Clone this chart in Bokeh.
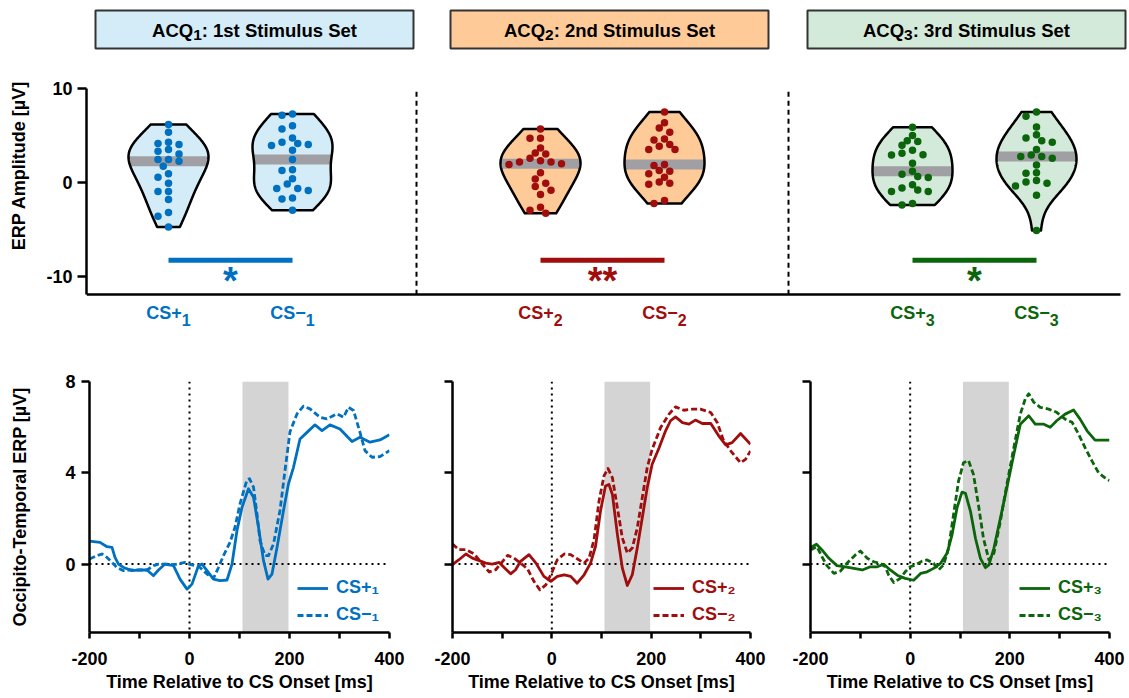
import numpy as np
from bokeh.plotting import figure
from bokeh.layouts import column, row
from bokeh.models import Range1d, FixedTicker, Span, BoxAnnotation
from bokeh.core.properties import value
from bokeh.embed import file_html
from bokeh.resources import INLINE

FONT = "Liberation Sans"

# ---------------- data ----------------
header_prefix = "ACQ"
header_index = ["1", "2", "3"]
header_rest = [": 1st Stimulus Set", ": 2nd Stimulus Set", ": 3rd Stimulus Set"]
condition_names = ["CS+", "CS\u2212", "CS+", "CS\u2212", "CS+", "CS\u2212"]
condition_sets = ["1", "1", "2", "2", "3", "3"]
significance = ["*", "**", "*"]

# ERP amplitude per participant [µV]
cs_plus_1 = [6.15, 5.33, 4.26, 4.13, 4.02, 3.49, 3.30, 3.02, 2.42, 2.42, 2.24, 1.71, 0.92, 0.53, -0.11, -0.99, -0.99, -1.84, -3.23, -3.62, -4.77]
cs_minus_1 = [7.28, 7.14, 6.04, 5.68, 4.72, 4.26, 4.13, 4.02, 3.91, 3.41, 2.42, 1.35, 1.25, 0.39, -0.18, -0.67, -0.67, -0.88, -1.67, -1.78, -2.99]
cs_plus_2 = [5.68, 4.69, 4.69, 3.66, 3.13, 3.02, 2.56, 2.31, 2.16, 2.16, 1.99, 1.89, 1.03, 0.35, -0.11, -0.46, -0.85, -1.31, -2.67, -2.99, -3.30]
cs_minus_2 = [7.49, 6.36, 5.79, 5.33, 4.62, 4.51, 4.02, 3.84, 3.49, 3.49, 1.89, 1.78, 1.25, 1.17, 0.92, 0.53, 0.03, -0.11, -0.21, -1.95, -2.27]
cs_plus_3 = [5.86, 4.98, 4.44, 4.34, 3.94, 3.41, 3.09, 2.95, 2.91, 2.03, 1.17, 0.85, 0.61, 0.50, -0.25, -0.61, -0.82, -0.99, -0.99, -2.27, -2.42]
cs_minus_3 = [7.49, 7.04, 5.90, 5.08, 4.72, 4.44, 4.26, 3.49, 2.91, 2.74, 2.74, 2.56, 1.84, 1.03, 0.96, 0.18, 0.03, -0.11, -0.39, -1.39, -5.15]

# ERP time courses (time [ms], amplitude [µV])
t_plus_1 = [-200, -179, -165, -155, -149, -142, -132, -115, -99, -85, -72, -62, -49, -32, -19, -5, 5, 18, 25, 35, 48, 61, 75, 85, 95, 105, 118, 128, 138, 148, 157, 165, 175, 188, 198, 208, 221, 235, 251, 265, 281, 301, 325, 341, 361, 381, 400]
v_plus_1 = [1.0, 0.95, 0.76, 0.73, 0.29, 0.0, -0.15, -0.29, -0.26, -0.26, -0.51, -0.26, 0.0, -0.07, -0.66, -1.1, -0.88, -0.07, 0.0, -0.29, -0.66, -0.73, -0.70, 0.0, 1.47, 2.49, 3.3, 2.93, 1.61, 0.15, -0.66, -0.44, 0.73, 2.35, 3.52, 4.24, 5.48, 5.77, 6.10, 5.85, 6.10, 5.92, 5.37, 5.56, 5.34, 5.44, 5.67]
t_minus_1 = [-200, -185, -175, -165, -155, -145, -132, -119, -99, -85, -72, -62, -45, -32, -19, -9, -1, 11, 21, 35, 48, 58, 68, 81, 91, 101, 115, 120, 128, 135, 141, 151, 158, 168, 181, 191, 201, 215, 228, 241, 261, 275, 295, 308, 318, 328, 341, 351, 365, 381, 400]
v_minus_1 = [0.22, 0.37, 0.44, 0.29, 0.07, -0.15, -0.29, -0.26, -0.26, -0.26, -0.07, 0.0, 0.0, -0.03, 0.03, 0.07, 0.0, -0.07, -0.15, -0.44, -0.62, -0.15, 0.37, 0.95, 1.61, 2.64, 3.7, 3.74, 3.37, 2.2, 1.03, 0.37, 0.37, 0.88, 2.35, 4.1, 5.8, 6.58, 6.92, 6.80, 6.43, 6.36, 6.58, 6.43, 6.87, 6.73, 5.77, 4.97, 4.68, 4.71, 4.97]
t_plus_2 = [-200, -187, -173, -160, -146, -133, -120, -106, -96, -83, -73, -63, -46, -32, -16, -2, 11, 25, 38, 51, 65, 78, 88, 98, 108, 115, 122, 132, 142, 152, 162, 172, 182, 192, 202, 216, 229, 239, 249, 263, 276, 289, 303, 320, 336, 350, 363, 380, 400]
v_plus_2 = [-0.03, 0.19, 0.44, 0.26, 0.15, 0.04, 0.0, 0.07, -0.15, -0.43, -0.25, 0.12, 0.41, 0.04, -0.54, -0.76, -0.54, -0.47, -0.54, -0.84, -0.47, 0.04, 0.78, 2.32, 3.42, 3.49, 3.05, 1.29, -0.18, -0.94, -0.47, 0.70, 2.02, 3.34, 4.37, 5.10, 5.84, 6.28, 6.45, 6.20, 6.13, 6.31, 6.16, 6.16, 5.62, 5.22, 5.32, 5.72, 5.25]
t_minus_2 = [-200, -187, -173, -156, -140, -126, -113, -99, -89, -76, -63, -49, -36, -24, -12, 1, 11, 25, 38, 51, 65, 75, 85, 95, 105, 113, 122, 132, 142, 152, 162, 172, 182, 192, 202, 219, 236, 249, 266, 283, 299, 320, 333, 346, 363, 380, 390, 400]
v_minus_2 = [0.88, 0.63, 0.63, 0.44, 0.0, -0.35, -0.25, 0.12, 0.38, 0.26, 0.04, -0.21, -0.76, -1.13, -0.91, -0.32, 0.19, 0.44, 0.41, 0.23, 0.04, 0.26, 1.07, 2.76, 3.86, 4.19, 3.78, 2.46, 1.14, 0.48, 0.70, 1.58, 2.90, 4.22, 5.03, 5.98, 6.57, 6.89, 6.74, 6.79, 6.79, 6.64, 6.20, 5.40, 4.88, 4.44, 4.59, 4.96]
t_plus_3 = [-200, -188, -177, -163, -147, -130, -113, -96, -80, -66, -53, -40, -26, -10, 7, 21, 34, 47, 61, 74, 84, 94, 104, 111, 121, 131, 141, 151, 158, 168, 181, 194, 208, 221, 238, 251, 268, 281, 294, 311, 328, 341, 355, 371, 385, 400]
v_plus_3 = [0.72, 0.87, 0.62, 0.25, -0.07, -0.12, -0.19, -0.26, -0.12, -0.12, -0.01, -0.26, -0.49, -0.63, -0.71, -0.41, -0.34, -0.19, 0.03, 0.47, 1.28, 2.46, 3.15, 3.10, 2.31, 1.13, 0.25, -0.16, -0.04, 0.69, 2.01, 3.34, 4.81, 6.13, 6.50, 6.13, 6.13, 5.99, 6.28, 6.57, 6.75, 6.35, 5.84, 5.43, 5.43, 5.43]
t_minus_3 = [-200, -187, -177, -167, -153, -140, -127, -110, -100, -86, -73, -60, -50, -43, -33, -20, -10, 0, 11, 24, 34, 47, 57, 67, 77, 87, 97, 107, 117, 127, 137, 147, 158, 168, 181, 194, 208, 221, 231, 238, 248, 261, 278, 294, 311, 325, 338, 351, 365, 378, 391, 400]
v_minus_3 = [0.62, 0.76, 0.32, -0.07, -0.41, -0.31, 0.03, 0.40, 0.57, 0.25, 0.10, 0.03, -0.12, -0.49, -0.81, -0.63, -0.34, -0.12, -0.04, 0.13, 0.18, 0.03, -0.26, -0.04, 0.69, 2.16, 3.63, 4.44, 4.54, 3.93, 2.60, 1.13, 0.18, 0.47, 1.87, 3.49, 5.10, 6.57, 7.24, 7.46, 7.09, 6.87, 6.79, 6.65, 6.35, 6.21, 5.69, 5.10, 4.51, 4.0, 3.78, 3.66]

analysis_window = [106, 198]   # shaded time window [ms]

# ---------------- style ----------------
dark = ["#0070c0", "#a00d0d", "#0b650b"]
light = ["#d3ecf8", "#fecb98", "#d3e9da"]
SUB = str.maketrans("0123456789", "\u2080\u2081\u2082\u2083\u2084\u2085\u2086\u2087\u2088\u2089")

PXU = 124.0   # px per category unit (top panel)
PXV = 9.38    # px per µV (top panel)

# Arial/Liberation Sans Bold advance widths (1/1000 em) for text layout
CHW = {'A': 722, 'C': 722, 'Q': 778, 'S': 667, '+': 584, '\u2212': 584, ':': 333, ' ': 278,
       '1': 556, '2': 556, '3': 556, 's': 556, 't': 333, 'n': 611, 'd': 611, 'r': 389,
       'i': 278, 'm': 889, 'u': 611, 'l': 278, 'e': 556}


def text_w(s, size):
    return sum(CHW.get(ch, 556) for ch in s) / 1000.0 * size


def swarm(vals, step=5.25, dmin=7.0):
    vals = np.asarray(vals, dtype=float)
    order = np.argsort(-vals)
    placed = []
    offs = np.zeros(len(vals))
    cands = [0] + [s * m for m in range(1, 12) for s in (-1, 1)]
    for i in order:
        y = vals[i] * PXV
        for c in cands:
            x = c * step
            if all((x - px) ** 2 + (y - py) ** 2 >= dmin ** 2 for px, py in placed):
                break
        placed.append((x, y))
        offs[i] = x
    return offs / PXU


def style_axis(ax, tick_out=8):
    ax.axis_line_width = 2.5
    ax.axis_line_color = "black"
    ax.major_tick_line_width = 2.5
    ax.major_tick_line_color = "black"
    ax.minor_tick_line_width = 2.5
    ax.minor_tick_line_color = "black"
    ax.major_tick_in = 0
    ax.major_tick_out = tick_out
    ax.minor_tick_in = 0
    ax.minor_tick_out = tick_out
    ax.major_label_text_font = FONT
    ax.major_label_text_font_style = "bold"
    ax.major_label_text_font_size = "18px"
    ax.major_label_text_color = "black"
    ax.axis_label_text_font = FONT
    ax.axis_label_text_font_style = "bold"
    ax.axis_label_text_font_size = "18px"
    ax.axis_label_text_color = "black"


def bold_text(p, x, y, s, size, color, align="left", baseline="middle", x_offset=0):
    p.text(x=[x], y=[y], text=[s], text_align=align, text_baseline=baseline,
           x_offset=x_offset, text_font=value(FONT), text_font_style="bold",
           text_font_size=value(f"{size}px"), text_color=color)


# ---------------- top panel (violins) ----------------
top_w, top_h = 1129, 340
b_left, b_bottom = 86, 10
x_start = 1 - 82 / PXU
x_end = x_start + (top_w - b_left) / PXU
y_end = 10 + 88 / PXV
y_start = y_end - (top_h - b_bottom) / PXV

top = figure(width=top_w, height=top_h, output_backend="svg", toolbar_location=None,
             x_range=Range1d(x_start, x_end), y_range=Range1d(y_start, y_end),
             min_border_left=b_left, min_border_right=0, min_border_top=0,
             min_border_bottom=b_bottom)
top.outline_line_color = None
top.grid.visible = False

style_axis(top.yaxis[0], tick_out=9)
top.yaxis.bounds = (-12, 10)
top.yaxis.ticker = FixedTicker(ticks=[-10, 0, 10])
top.yaxis.major_label_overrides = {-10: "-10"}
top.yaxis.axis_label = "ERP Amplitude [\u00b5V]"
top.yaxis.axis_label_standoff = 14
top.yaxis.major_label_standoff = 5

style_axis(top.xaxis[0], tick_out=0)
top.xaxis.fixed_location = -12
top.xaxis.bounds = (x_start, 8.68)
top.xaxis.ticker = FixedTicker(ticks=[])

positions = [1, 2, 4, 5, 7, 8]
samples = [cs_plus_1, cs_minus_1, cs_plus_2, cs_minus_2, cs_plus_3, cs_minus_3]
BW = 1.9
HALF_W = 40 / PXU

# header boxes
hdr_left_px = [95, 450, 807]
hdr_w_px = 318
HS, HSUB = 18.5, 15.5
for g in range(3):
    l = 1 + (hdr_left_px[g] - 168) / PXU
    r = l + hdr_w_px / PXU
    cx = (l + r) / 2
    top.quad(left=l, right=r, top=10 + 78 / PXV, bottom=10 + 40 / PXV,
             fill_color=light[g], line_color="#333333", line_width=2)
    w_pre = text_w(header_prefix, HS)
    w_sub = text_w(header_index[g], HSUB)
    w_rest = text_w(header_rest[g], HS)
    anchor = -(w_pre + w_sub + w_rest) / 2 + w_pre
    y_mid = 10 + (88 - 29.5) / PXV
    bold_text(top, cx, y_mid, header_prefix, HS, "black", align="right", x_offset=anchor)
    bold_text(top, cx, y_mid - 5 / PXV, header_index[g], HSUB, "black", x_offset=anchor)
    bold_text(top, cx, y_mid, header_rest[g], HS, "black", x_offset=anchor + w_sub)

# separators
top.segment(x0=[3, 6], y0=[-12, -12], x1=[3, 6], y1=[10, 10], line_color="black",
            line_width=2, line_dash="5 4")

CS, CSUB = 18, 16
for i, (c, vals) in enumerate(zip(positions, samples)):
    g = i // 2
    v = np.asarray(vals, dtype=float)
    grid = np.linspace(v.min(), v.max(), 150)
    dens = np.exp(-0.5 * ((grid[:, None] - v[None, :]) / BW) ** 2).sum(axis=1)
    hw = dens / dens.max() * HALF_W
    xs = np.concatenate([c + hw, (c - hw)[::-1]])
    ys = np.concatenate([grid, grid[::-1]])
    top.patch(xs, ys, fill_color=light[g], line_color=None)
    med = float(np.median(v))
    wmed = float(np.interp(med, grid, hw))
    top.segment(x0=[c - wmed], y0=[med], x1=[c + wmed], y1=[med], line_color="#a0a0a4",
                line_width=10)
    top.patch(xs, ys, fill_color=None, line_color="black", line_width=2.5, line_join="round")
    offs = swarm(v)
    top.scatter(c + offs, v, size=7.5, fill_color=dark[g], line_color=None)
    # category label with subscript
    w_main = text_w(condition_names[i], CS)
    w_sub = text_w(condition_sets[i], CSUB)
    anchor = -(w_main + w_sub) / 2 + w_main
    y_lab = -(312 - 181) / PXV
    bold_text(top, c, y_lab, condition_names[i], CS, dark[g], align="right", x_offset=anchor)
    bold_text(top, c, y_lab - 7 / PXV, condition_sets[i], CSUB, dark[g], x_offset=anchor)

for g in range(3):
    a, b = positions[2 * g], positions[2 * g + 1]
    top.segment(x0=[a], y0=[-8.3], x1=[b], y1=[-8.3], line_color=dark[g], line_width=5)
    bold_text(top, (a + b) / 2, -10.5, significance[g], 38, dark[g], align="center",
              baseline="alphabetic")


# ---------------- bottom panels (ERP waveforms) ----------------
legend_x = [208, 201, 209]


def erp_panel(t_p, v_p, t_m, v_m, g, width, left, right, first):
    p = figure(width=width, height=358, output_backend="svg", toolbar_location=None,
               x_range=Range1d(-200, 400), y_range=Range1d(-3, 8),
               min_border_left=left, min_border_right=right, min_border_top=41,
               min_border_bottom=66)
    p.outline_line_color = None
    p.grid.visible = False
    p.add_layout(BoxAnnotation(left=analysis_window[0], right=analysis_window[1],
                               fill_color="#d4d4d4", fill_alpha=1.0, line_color=None,
                               level="underlay"))
    p.add_layout(Span(location=0, dimension="height", line_color="black", line_width=2,
                      line_dash="2 4", level="underlay"))
    p.add_layout(Span(location=0, dimension="width", line_color="black", line_width=2,
                      line_dash="2 4", level="underlay"))
    p.line(t_p, v_p, line_color=dark[g], line_width=2.8, line_join="round",
           legend_label=condition_names[2 * g] + condition_sets[2 * g].translate(SUB))
    p.line(t_m, v_m, line_color=dark[g], line_width=2.8, line_dash="6 3", line_join="round",
           legend_label=condition_names[2 * g + 1] + condition_sets[2 * g + 1].translate(SUB))

    style_axis(p.xaxis[0], tick_out=6)
    p.xaxis.ticker = FixedTicker(ticks=[-200, 0, 200, 400], minor_ticks=[-100, 100, 300])
    p.xaxis.major_label_overrides = {-200: "-200"}
    p.xaxis.axis_label = "Time Relative to CS Onset [ms]"
    p.xaxis.major_label_standoff = 13
    p.xaxis.axis_label_standoff = 4

    style_axis(p.yaxis[0], tick_out=8)
    if first:
        p.yaxis.ticker = FixedTicker(ticks=[0, 4, 8])
        p.yaxis.axis_label = "Occipito-Temporal ERP [\u00b5V]"
        p.yaxis.axis_label_standoff = 32
        p.yaxis.major_label_standoff = 6
    else:
        p.yaxis.ticker = FixedTicker(ticks=[], minor_ticks=[0, 4, 8])

    lg = p.legend[0]
    lg.location = (legend_x[g], 7)
    lg.border_line_color = None
    lg.background_fill_alpha = 0
    lg.label_text_font = FONT
    lg.label_text_font_style = "bold"
    lg.label_text_font_size = "18px"
    lg.label_text_color = dark[g]
    lg.glyph_width = 31
    lg.glyph_height = 20
    lg.label_standoff = 8
    lg.spacing = 6
    lg.padding = 3
    lg.margin = 0
    return p


p1 = erp_panel(t_plus_1, v_plus_1, t_minus_1, v_minus_1, 0, 420, 89, 31, True)
p2 = erp_panel(t_plus_2, v_plus_2, t_minus_2, v_minus_2, 1, 360, 32, 30, False)
p3 = erp_panel(t_plus_3, v_plus_3, t_minus_3, v_minus_3, 2, 349, 30, 20, False)

layout = column(top, row(p1, p2, p3))
open("out.html", "w").write(file_html(layout, INLINE))
